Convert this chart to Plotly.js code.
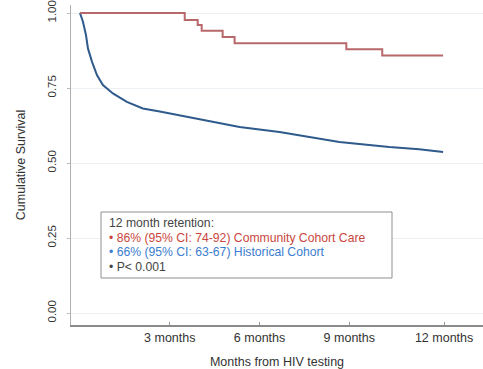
<!DOCTYPE html>
<html>
<head>
<meta charset="utf-8">
<script src="https://cdn.plot.ly/plotly-3.0.1.min.js"></script>
<style>html,body{margin:0;padding:0;background:#fff}#chart{width:483px;height:369px}</style>
</head>
<body>
<div id="chart"></div>
<script>
// Days since HIV testing and cumulative survival
const communityDays = [0, 105, 118, 122, 143, 155, 267, 303, 364];
const communitySurv = [1.00, 0.977, 0.96, 0.941, 0.92, 0.899, 0.879, 0.858, 0.858];

const historicalDays = [0, 3, 6, 8, 12, 17, 23, 33, 47, 63, 80, 103, 137, 160, 200, 230, 260, 310, 340, 364];
const historicalSurv = [1.00, 0.971, 0.927, 0.882, 0.838, 0.793, 0.76, 0.732, 0.704, 0.682, 0.672, 0.657, 0.637, 0.62, 0.603, 0.587, 0.57, 0.553, 0.546, 0.537];

const xTickVals = [90, 180, 270, 365];
const xTickText = ["3 months", "6 months", "9 months", "12 months"];
const yTickVals = [0, 0.25, 0.5, 0.75, 1.0];
const yTickText = ["0.00", "0.25", "0.50", "0.75", "1.00"];

const legendLines = ["12 month retention:", "86% (95% CI: 74-92) Community Cohort Care", "66% (95% CI: 63-67) Historical Cohort", "P< 0.001"];
const legendColors = ["#444444", "#c9463d", "#3b7dcf", "#444444"];
const legendBullets = [false, true, true, true];

const font = "Liberation Sans, Arial, sans-serif";

const traces = [
  {x: historicalDays, y: historicalSurv, mode: "lines", line: {color: "#2f5a8c", width: 2}, hoverinfo: "skip"},
  {x: communityDays, y: communitySurv, mode: "lines", line: {color: "#b8676b", width: 2, shape: "hv"}, hoverinfo: "skip"}
];

// legend box geometry (paper coords)
const boxX0 = 30/412, boxX1 = 321/412, boxY0 = 47/320, boxY1 = 113/320;
const lineY = [0.319, 0.273, 0.228, 0.181];
const textX = 36/412;

const annotations = legendLines.map((t, i) => ({
  xref: "paper", yref: "paper", x: textX, y: lineY[i],
  xanchor: "left", yanchor: "middle", showarrow: false,
  text: (legendBullets[i] ? "• " : "") + t,
  font: {family: font, size: 12.2, color: legendColors[i]}
}));

const layout = {
  width: 483, height: 369,
  margin: {l: 71, r: 0, t: 5, b: 44},
  paper_bgcolor: "#fff", plot_bgcolor: "#fff",
  showlegend: false,
  font: {family: font, size: 12, color: "#333"},
  xaxis: {
    range: [-9, 404],
    tickvals: xTickVals, ticktext: xTickText,
    ticks: "inside", ticklen: 3, tickcolor: "#999",
    showgrid: false, zeroline: false,
    showline: true, linecolor: "#8a8a8a", linewidth: 1.5,
    tickfont: {size: 12.5, color: "#333"},
    title: {text: "Months from HIV testing", font: {size: 12.5, color: "#333"}, standoff: 14}
  },
  yaxis: {
    range: [-0.04, 1.0267],
    tickvals: yTickVals, ticktext: yTickText,
    tickangle: -90,
    ticks: "outside", ticklen: 3, tickcolor: "#bbb",
    ticklabelstandoff: 6,
    showgrid: true, gridcolor: "#eaf0f3", gridwidth: 1,
    zeroline: false,
    showline: true, linecolor: "#b0b0b0", linewidth: 1,
    tickfont: {size: 11.5, color: "#333"},
    title: {text: "Cumulative Survival", font: {size: 12.5, color: "#333"}, standoff: 18}
  },
  shapes: [{
    type: "rect", xref: "paper", yref: "paper",
    x0: boxX0, x1: boxX1, y0: boxY0, y1: boxY1,
    fillcolor: "#fff", line: {color: "#8f8f8f", width: 1}, layer: "above"
  }],
  annotations: annotations
};

Plotly.newPlot("chart", traces, layout, {displayModeBar: false, staticPlot: true});
</script>
</body>
</html>
